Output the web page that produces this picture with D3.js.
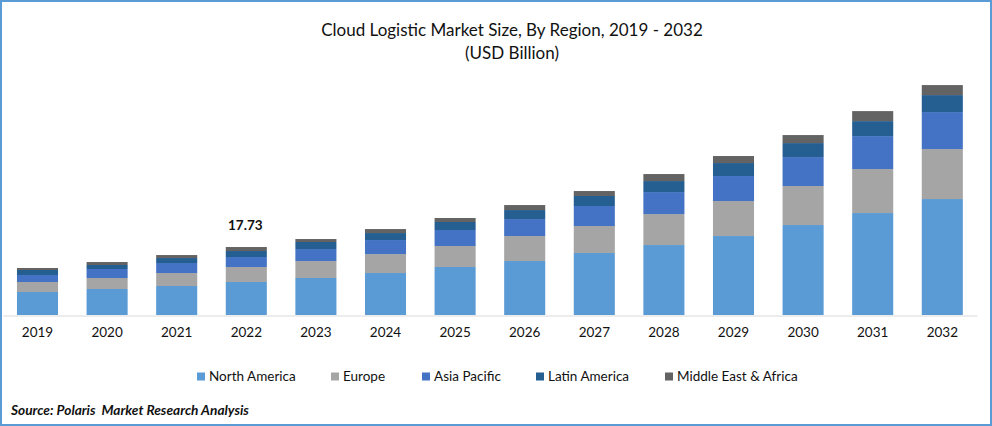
<!DOCTYPE html>
<html><head><meta charset="utf-8">
<script src="https://cdnjs.cloudflare.com/ajax/libs/d3/7.8.5/d3.min.js"></script>
<style>html,body{margin:0;padding:0;background:#fff}svg{display:block}text{font-family:Lato,"Open Sans",sans-serif;fill:#111}</style>
</head><body><svg id="c" width="992" height="426"></svg>
<script>
const years=["2019","2020","2021","2022","2023","2024","2025","2026","2027","2028","2029","2030","2031","2032"];
const regions=["North America","Europe","Asia Pacific","Latin America","Middle East & Africa"];
const colors=["#5B9BD5","#A5A5A5","#4472C4","#255E91","#636363"];
const northAmerica=[6.00,6.78,7.56,8.61,9.65,10.95,12.52,14.08,16.17,18.25,20.60,23.47,26.60,30.25];
const europe=[2.61,2.87,3.39,3.91,4.43,4.95,5.48,6.52,7.04,8.08,9.13,10.17,11.47,13.04];
const asiaPacific=[1.83,2.35,2.61,2.61,3.13,3.65,4.17,4.43,5.22,5.74,6.52,7.56,8.60,9.65];
const latinAmerica=[1.30,1.04,1.30,1.56,1.83,1.83,2.09,2.35,2.61,2.87,3.39,3.65,3.91,4.43];
const middleEast=[0.52,0.78,0.78,1.04,0.78,1.04,1.04,1.30,1.30,1.83,1.83,2.09,2.61,2.61];
const annotationYear="2022", annotationText="17.73";
const titleLines=["Cloud Logistic Market Size, By Region, 2019 - 2032","(USD Billion)"];
const sourceText="Source: Polaris  Market Research Analysis";

const svg=d3.select("#c");
const x=d3.scaleBand().domain(years).range([2.7,977.1]).paddingInner(0.41).paddingOuter(0.205);
const y=d3.scaleLinear().domain([0,60]).range([315,85]);
const rows=years.map((yr,i)=>({year:yr,"North America":northAmerica[i],"Europe":europe[i],"Asia Pacific":asiaPacific[i],"Latin America":latinAmerica[i],"Middle East & Africa":middleEast[i]}));
const stack=d3.stack().keys(regions)(rows);

svg.selectAll("g.s").data(stack).join("g").attr("class","s").attr("fill",(d,i)=>colors[i])
 .selectAll("rect").data(d=>d).join("rect")
 .attr("x",d=>x(d.data.year)).attr("width",x.bandwidth())
 .attr("y",d=>y(d[1])).attr("height",d=>y(d[0])-y(d[1]));

const ax=svg.append("g").attr("transform","translate(0,315.5)").call(d3.axisBottom(x).tickSize(0).tickPadding(12));
ax.select(".domain").attr("stroke","#d9d9d9").attr("stroke-width",1.2);
ax.selectAll("text").attr("font-size",13.5).style("font-family","Lato").attr("fill","#111");

const top22=d3.sum(stack,s=>s[years.indexOf(annotationYear)][1]-s[years.indexOf(annotationYear)][0]);
svg.append("text").attr("x",x(annotationYear)+x.bandwidth()/2-1).attr("y",y(top22)-17)
 .attr("text-anchor","middle").attr("font-size",13.5).attr("font-weight",700).text(annotationText);

svg.selectAll("text.t").data(titleLines).join("text").attr("class","t")
 .attr("x",512).attr("y",(d,i)=>36+i*23).attr("text-anchor","middle").attr("font-size",17).text(d=>d);

const legendX=[197,331,422,536,665];
const lg=svg.selectAll("g.l").data(regions).join("g").attr("class","l").attr("transform",(d,i)=>`translate(${legendX[i]},372.5)`);
lg.append("rect").attr("width",8).attr("height",8).attr("fill",(d,i)=>colors[i]);
lg.append("text").attr("x",12).attr("y",8.5).attr("font-size",13.5).attr("fill","#222").text(d=>d);

svg.append("text").attr("x",11).attr("y",415).attr("font-size",13.7).attr("font-weight",700).attr("font-style","italic").style("white-space","pre").text(sourceText);

svg.append("rect").attr("x",1).attr("y",1).attr("width",990).attr("height",424).attr("fill","none").attr("stroke","#5B9BD5").attr("stroke-width",2);
</script></body></html>
